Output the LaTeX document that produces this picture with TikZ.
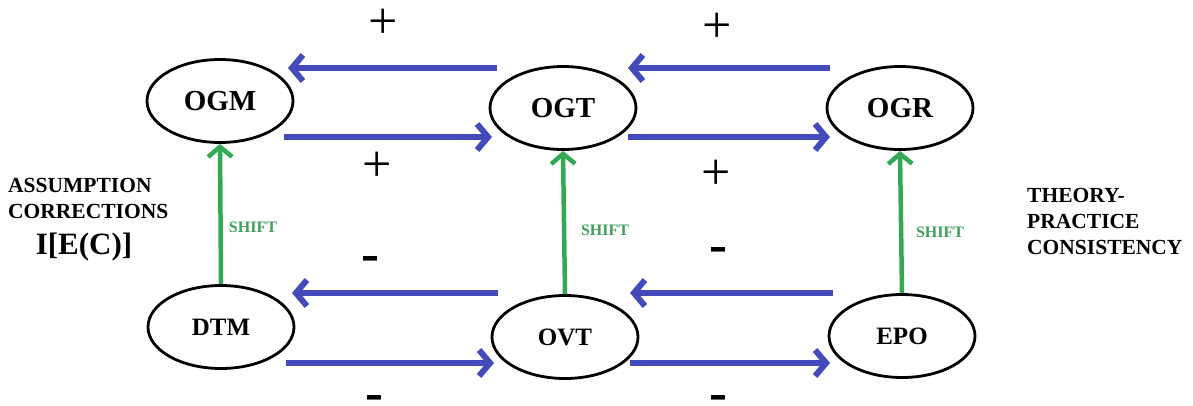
\documentclass[tikz,border=0pt]{standalone}
\usepackage{fontspec}
\setmainfont{Liberation Serif}
\usetikzlibrary{shapes.geometric,arrows.meta}
\definecolor{flowblue}{RGB}{68,74,186}
\definecolor{shiftgreen}{RGB}{52,168,84}
\definecolor{shifttext}{RGB}{62,160,92}
\tikzset{
  state/.style={ellipse,draw=black,line width=2.8pt,minimum width=146pt,minimum height=83pt,inner sep=0pt,font=\bfseries\fontsize{29}{29}\selectfont},
  lowstate/.style={state,font=\bfseries\fontsize{25}{25}\selectfont},
  flow/.style={draw=flowblue,line width=6pt,-{Straight Barb[length=11pt,width=26pt]}},
  shiftarrow/.style={draw=shiftgreen,line width=4.5pt,-{Straight Barb[length=10pt,width=24pt]}},
  shiftlabel/.style={text=shifttext,font=\bfseries\fontsize{16}{16}\selectfont,inner sep=0pt},
  plus/.style={font=\fontsize{52}{52}\selectfont,inner sep=0pt},
  minus/.style={font=\bfseries\fontsize{54}{54}\selectfont,inner sep=0pt},
  sidetext/.style={font=\bfseries\fontsize{21.5}{26}\selectfont,inner sep=0pt,align=left}
}
\begin{document}
\begin{tikzpicture}[x=1pt,y=-1pt]
\useasboundingbox[fill=white] (0,0) rectangle (1193,405);

% upper row
\node[state] (OGM) at (220,101) {OGM};
\node[state] (OGT) at (563,108) {OGT};
\node[state] (OGR) at (900,108) {OGR};
% lower row
\node[lowstate] (DTM) at (221,327) {DTM};
\node[lowstate] (OVT) at (565,337) {OVT};
\node[lowstate] (EPO) at (902,336) {EPO};

% upper row flows
\draw[flow] ([shift={(-66,-40)}]OGT.center) -- ([shift={(68,-33)}]OGM.center);
\draw[flow] ([shift={(64,36)}]OGM.center) -- ([shift={(-71,29)}]OGT.center);
\draw[flow] ([shift={(-70,-40)}]OGR.center) -- ([shift={(65,-40)}]OGT.center);
\draw[flow] ([shift={(65,29)}]OGT.center) -- ([shift={(-70,29)}]OGR.center);
% lower row flows
\draw[flow] ([shift={(-67,-44)}]OVT.center) -- ([shift={(71,-34)}]DTM.center);
\draw[flow] ([shift={(65,36)}]DTM.center) -- ([shift={(-71,26)}]OVT.center);
\draw[flow] ([shift={(-69,-43)}]EPO.center) -- ([shift={(65,-44)}]OVT.center);
\draw[flow] ([shift={(65,26)}]OVT.center) -- ([shift={(-72,27)}]EPO.center);

% shifts from the lower to the upper row
\draw[shiftarrow] (DTM.north) -- (OGM.south);
\draw[shiftarrow] (OVT.north) -- (OGT.south);
\draw[shiftarrow] (EPO.north) -- (OGR.south);
\node[shiftlabel] (s1) at (253,227) {SHIFT};
\node[shiftlabel] (s2) at (605,230) {SHIFT};
\node[shiftlabel] (s3) at (940,232) {SHIFT};

% signs
\node[plus] (p1) at (383,24) {+};
\node[plus] (p2) at (377,167) {+};
\node[plus] (p3) at (717,28) {+};
\node[plus] (p4) at (716,175) {+};
\node[minus] (m1) at (370,264) {-};
\node[minus] (m2) at (718,255) {-};
\node[minus] (m3) at (374,403) {-};
\node[minus] (m4) at (718,403) {-};

% side notes
\node[sidetext,anchor=west] (left) at (8,198) {ASSUMPTION\\CORRECTIONS};
\node[font=\bfseries\fontsize{31}{31}\selectfont,inner sep=0pt] (iec) at (84,247) {I[E(C)]};
\node[sidetext,anchor=west] (right) at (1027,221) {THEORY-\\PRACTICE\\CONSISTENCY};
\end{tikzpicture}
\end{document}
